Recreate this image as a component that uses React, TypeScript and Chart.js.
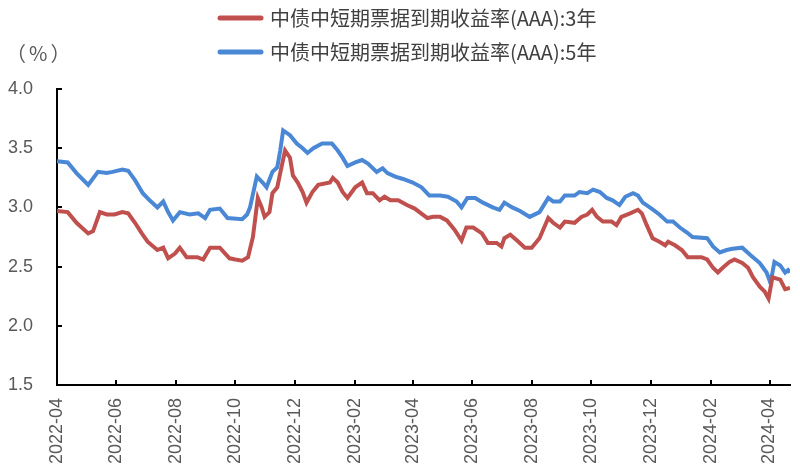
import React, { useEffect, useRef } from 'react';
import { Chart, registerables } from 'chart.js';

Chart.register(...registerables);

const seriesNames = ['中债中短期票据到期收益率(AAA):3年', '中债中短期票据到期收益率(AAA):5年'];
const seriesColors = ['#C0504D', '#4A88D6'];
const unitLabel = '（%）';

const dates3Y = [
  '2022-04-01','2022-04-12','2022-04-21','2022-05-03','2022-05-08','2022-05-15','2022-05-22','2022-05-30','2022-06-07','2022-06-13',
  '2022-06-20','2022-06-27','2022-07-03','2022-07-13','2022-07-19','2022-07-24','2022-07-31','2022-08-05','2022-08-12','2022-08-23',
  '2022-08-29','2022-09-05','2022-09-15','2022-09-25','2022-10-01','2022-10-08','2022-10-14','2022-10-19','2022-10-24','2022-10-28',
  '2022-10-31','2022-11-05','2022-11-08','2022-11-13','2022-11-16','2022-11-21','2022-11-26','2022-11-29','2022-12-04','2022-12-09',
  '2022-12-13','2022-12-19','2022-12-25','2023-01-06','2023-01-09','2023-01-14','2023-01-19','2023-01-24','2023-02-01','2023-02-08',
  '2023-02-13','2023-02-19','2023-02-26','2023-03-03','2023-03-09','2023-03-17','2023-03-26','2023-04-03','2023-04-16','2023-04-22',
  '2023-04-29','2023-05-06','2023-05-14','2023-05-21','2023-05-26','2023-06-02','2023-06-11','2023-06-17','2023-06-26','2023-07-01',
  '2023-07-04','2023-07-10','2023-07-17','2023-07-25','2023-08-01','2023-08-09','2023-08-18','2023-08-23','2023-08-30','2023-09-04',
  '2023-09-14','2023-09-21','2023-09-27','2023-10-02','2023-10-07','2023-10-13','2023-10-22','2023-10-27','2023-11-01','2023-11-10',
  '2023-11-18','2023-11-22','2023-11-27','2023-12-03','2023-12-10','2023-12-16','2023-12-19','2023-12-26','2024-01-02','2024-01-08',
  '2024-01-22','2024-01-28','2024-02-03','2024-02-08','2024-02-13','2024-02-20','2024-02-25','2024-03-04','2024-03-10','2024-03-15',
  '2024-03-22','2024-03-27','2024-03-31','2024-04-04','2024-04-12','2024-04-17','2024-04-22',
];
const values3Y = [
  2.97,2.96,2.87,2.78,2.80,2.96,2.94,2.94,2.96,2.95,
  2.87,2.78,2.71,2.64,2.66,2.57,2.61,2.66,2.58,2.58,
  2.56,2.66,2.66,2.57,2.56,2.55,2.58,2.75,3.08,3.00,
  2.92,2.96,3.12,3.17,3.29,3.48,3.42,3.27,3.21,3.13,
  3.04,3.13,3.19,3.21,3.25,3.21,3.13,3.08,3.17,3.21,
  3.12,3.12,3.06,3.09,3.06,3.06,3.02,2.99,2.91,2.92,
  2.92,2.89,2.81,2.72,2.83,2.83,2.78,2.70,2.70,2.67,
  2.74,2.77,2.72,2.66,2.66,2.74,2.91,2.87,2.83,2.88,
  2.87,2.92,2.94,2.98,2.92,2.88,2.88,2.85,2.92,2.95,
  2.98,2.95,2.85,2.74,2.71,2.68,2.71,2.68,2.64,2.58,
  2.58,2.56,2.49,2.45,2.49,2.54,2.56,2.53,2.49,2.41,
  2.33,2.29,2.23,2.41,2.39,2.31,2.32,
];

const dates5Y = [
  '2022-04-01','2022-04-12','2022-04-21','2022-05-03','2022-05-13','2022-05-22','2022-05-28','2022-06-07','2022-06-13','2022-06-20',
  '2022-06-28','2022-07-05','2022-07-13','2022-07-19','2022-07-24','2022-07-29','2022-08-05','2022-08-15','2022-08-24','2022-08-31',
  '2022-09-05','2022-09-15','2022-09-23','2022-10-08','2022-10-13','2022-10-16','2022-10-23','2022-10-29','2022-11-02','2022-11-08',
  '2022-11-13','2022-11-16','2022-11-19','2022-11-26','2022-12-03','2022-12-09','2022-12-14','2022-12-20','2022-12-29','2023-01-08',
  '2023-01-14','2023-01-19','2023-01-24','2023-02-01','2023-02-08','2023-02-14','2023-02-23','2023-03-01','2023-03-06','2023-03-14',
  '2023-03-22','2023-04-01','2023-04-10','2023-04-18','2023-04-29','2023-05-07','2023-05-16','2023-05-21','2023-05-27','2023-06-04',
  '2023-06-12','2023-06-22','2023-06-29','2023-07-04','2023-07-12','2023-07-20','2023-07-30','2023-08-09','2023-08-18','2023-08-23',
  '2023-08-30','2023-09-04','2023-09-14','2023-09-19','2023-09-27','2023-10-03','2023-10-10','2023-10-17','2023-10-23','2023-10-30',
  '2023-11-05','2023-11-13','2023-11-18','2023-11-23','2023-12-02','2023-12-10','2023-12-18','2023-12-24','2023-12-31','2024-01-07',
  '2024-01-13','2024-01-28','2024-02-03','2024-02-10','2024-02-17','2024-02-23','2024-03-04','2024-03-12','2024-03-22','2024-03-29',
  '2024-04-02','2024-04-06','2024-04-12','2024-04-17','2024-04-20','2024-04-22',
];
const values5Y = [
  3.39,3.38,3.29,3.19,3.30,3.29,3.30,3.32,3.31,3.23,
  3.12,3.06,3.00,3.05,2.96,2.89,2.96,2.94,2.95,2.91,
  2.98,2.99,2.91,2.90,2.94,3.00,3.26,3.21,3.17,3.30,
  3.34,3.48,3.65,3.61,3.54,3.50,3.46,3.50,3.54,3.54,
  3.48,3.42,3.35,3.38,3.40,3.37,3.30,3.33,3.29,3.26,
  3.24,3.21,3.17,3.10,3.10,3.09,3.05,3.00,3.08,3.08,
  3.04,3.00,2.98,3.04,3.00,2.97,2.92,2.96,3.08,3.05,
  3.05,3.10,3.10,3.13,3.12,3.15,3.13,3.08,3.06,3.02,
  3.09,3.12,3.10,3.04,2.99,2.94,2.88,2.88,2.83,2.79,
  2.75,2.74,2.67,2.62,2.64,2.65,2.66,2.60,2.53,2.45,
  2.36,2.54,2.51,2.45,2.47,2.45,
];

const xTickLabels = ['2022-04','2022-06','2022-08','2022-10','2022-12','2023-02','2023-04','2023-06','2023-08','2023-10','2023-12','2024-02','2024-04'];
const yTickValues = [1.5, 2.0, 2.5, 3.0, 3.5, 4.0];
const startDate = '2022-04-01';
const endDate = '2024-04-22';

const toDay = (s: string) => {
  const y = +s.slice(0, 4);
  const m = +s.slice(5, 7) - 1;
  const d = s.length > 7 ? +s.slice(8, 10) : 1;
  const y0 = +startDate.slice(0, 4);
  const m0 = +startDate.slice(5, 7) - 1;
  const d0 = +startDate.slice(8, 10);
  return Math.round((Date.UTC(y, m, d) - Date.UTC(y0, m0, d0)) / 86400000);
};

const legendPlugin = {
  id: 'customLegend',
  afterDraw(chart: any) {
    const ctx = chart.ctx;
    ctx.save();
    const rows = [18, 52];
    chart.data.datasets.forEach((ds: any, i: number) => {
      const y = rows[i];
      ctx.strokeStyle = ds.borderColor;
      ctx.lineWidth = 5;
      ctx.lineCap = 'round';
      ctx.beginPath();
      ctx.moveTo(220, y);
      ctx.lineTo(261, y);
      ctx.stroke();
      ctx.fillStyle = '#404040';
      ctx.font = '20px "Noto Sans CJK SC"';
      ctx.textBaseline = 'middle';
      ctx.textAlign = 'left';
      ctx.fillText(ds.label, 270, y);
    });
    ctx.font = '20px "Noto Sans CJK SC"';
    ctx.fillStyle = '#595959';
    ctx.textBaseline = 'middle';
    ctx.textAlign = 'left';
    try { ctx.letterSpacing = '3px'; } catch (e) {}
    ctx.fillText(unitLabel, 6, 53);
    ctx.restore();
  },
};

export default function App() {
  const ref = useRef<HTMLCanvasElement | null>(null);
  useEffect(() => {
    document.body.style.margin = '0';
    if (!ref.current) return;
    const chart = new Chart(ref.current, {
      type: 'line',
      data: {
        datasets: [
          {
            label: seriesNames[0],
            data: dates3Y.map((d, i) => ({ x: toDay(d), y: values3Y[i] })),
            borderColor: seriesColors[0],
            backgroundColor: seriesColors[0],
            borderWidth: 4,
            pointRadius: 0,
            tension: 0,
          },
          {
            label: seriesNames[1],
            data: dates5Y.map((d, i) => ({ x: toDay(d), y: values5Y[i] })),
            borderColor: seriesColors[1],
            backgroundColor: seriesColors[1],
            borderWidth: 4,
            pointRadius: 0,
            tension: 0,
          },
        ],
      },
      options: {
        responsive: false,
        animation: false,
        devicePixelRatio: 1,
        layout: { padding: { top: 89, right: 10, left: 0, bottom: 0 } },
        plugins: { legend: { display: false }, tooltip: { enabled: false } },
        scales: {
          x: {
            type: 'linear',
            min: 0,
            max: toDay(endDate),
            afterBuildTicks: (s: any) => {
              s.ticks = xTickLabels.map((l) => ({ value: toDay(l) }));
            },
            afterFit: (s: any) => {
              s.height = 86;
              s.paddingLeft = 0;
              s.paddingRight = 0;
            },
            ticks: {
              autoSkip: false,
              minRotation: 90,
              maxRotation: 90,
              padding: 18,
              color: '#595959',
              font: { family: 'Liberation Sans', size: 18 },
              callback: (_v: any, i: number) => xTickLabels[i],
            },
            grid: { drawOnChartArea: false, drawTicks: true, tickLength: -5, color: '#000', lineWidth: 2 },
            border: { display: true, color: '#000', width: 2 },
          },
          y: {
            min: 1.5,
            max: 4.0,
            afterBuildTicks: (s: any) => {
              s.ticks = yTickValues.map((v) => ({ value: v }));
            },
            afterFit: (s: any) => {
              s.width = 57;
              s.paddingTop = 0;
              s.paddingBottom = 0;
            },
            ticks: {
              padding: 29,
              color: '#595959',
              font: { family: 'Liberation Sans', size: 18 },
              callback: (v: any) => Number(v).toFixed(1),
            },
            grid: { drawOnChartArea: false, drawTicks: true, tickLength: -5, color: '#000', lineWidth: 2 },
            border: { display: true, color: '#000', width: 2 },
          },
        },
      },
      plugins: [legendPlugin],
    } as any);
    return () => chart.destroy();
  }, []);
  return (
    <div style={{ width: 800, height: 471 }}>
      <canvas ref={ref} width={800} height={471} style={{ display: 'block' }} />
    </div>
  );
}
